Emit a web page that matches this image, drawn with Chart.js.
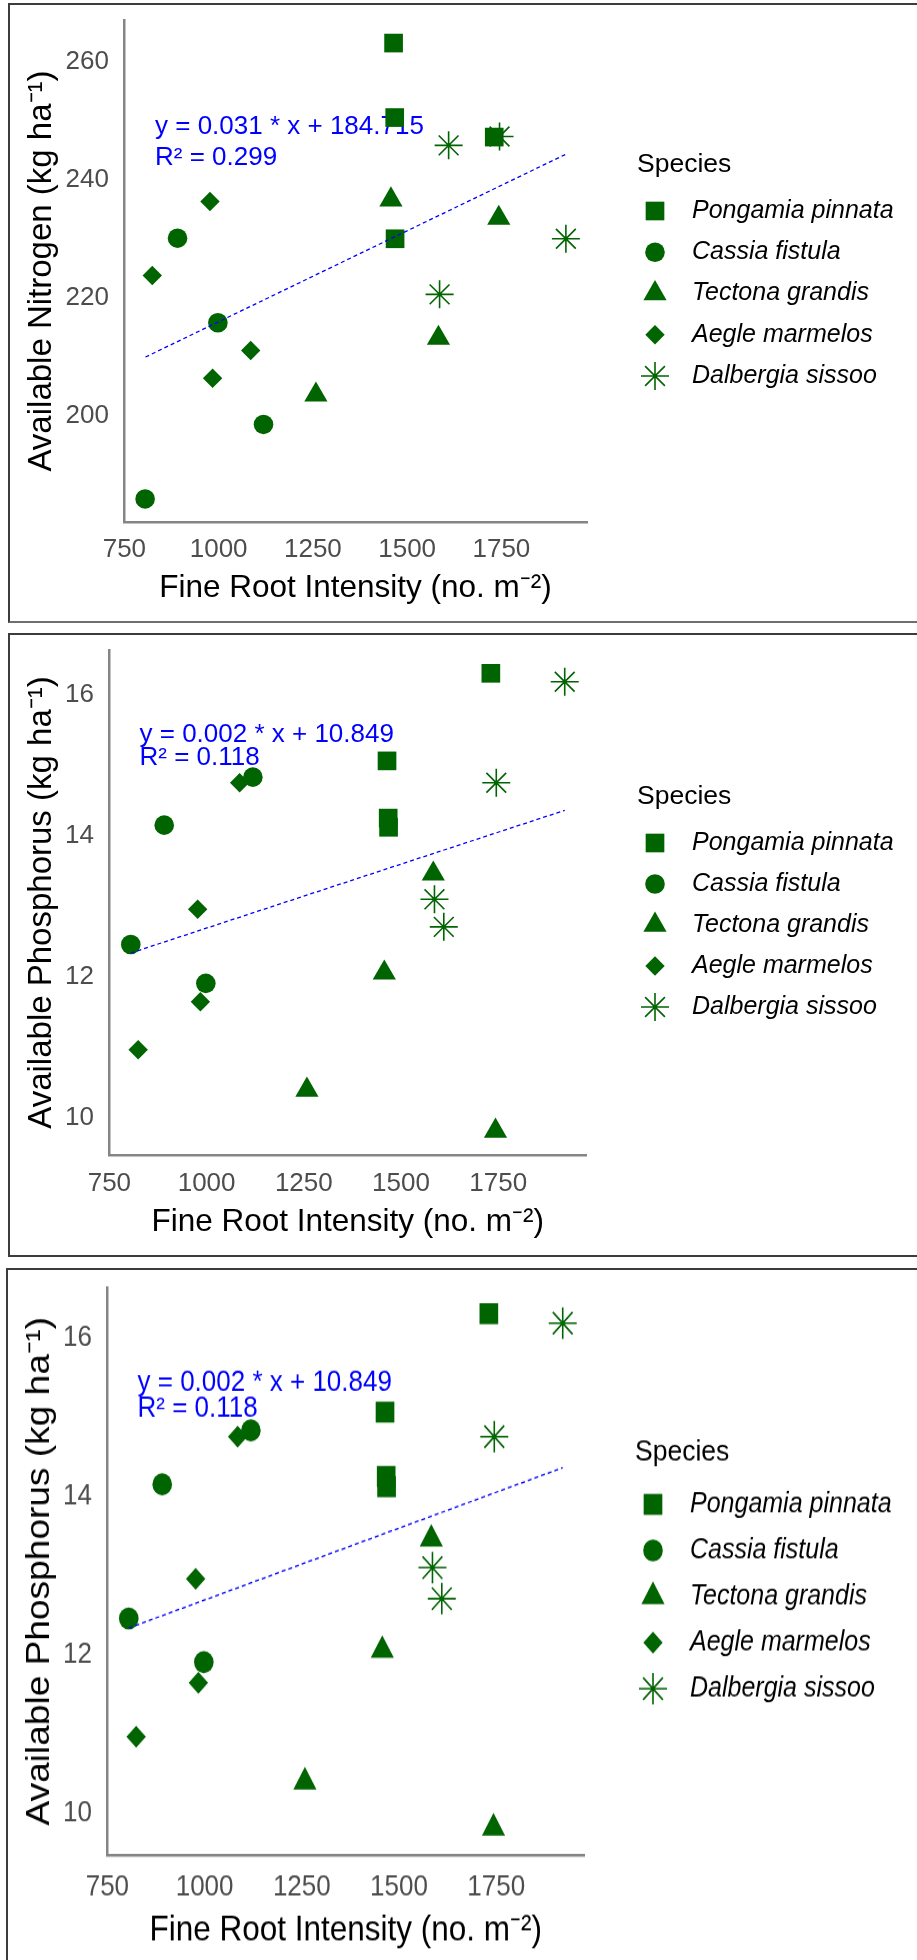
<!DOCTYPE html>
<html>
<head>
<meta charset="utf-8">
<script src="https://cdn.jsdelivr.net/npm/chart.js@4.4.1/dist/chart.umd.min.js"></script>
<style>
  html, body { margin: 0; padding: 0; background: #fff; }
  #page { position: relative; width: 917px; height: 1960px; overflow: hidden; }
  .frame { position: absolute; box-sizing: border-box; border: 2px solid #3c3c3c; }
  canvas { position: absolute; }
</style>
</head>
<body>
<div id="page">
<div class="frame" style="left:8px; top:3px; width:1000px; height:620px; border-bottom-color:#6e6e6e;"></div>
<div class="frame" style="left:8px; top:633px; width:1000px; height:624px;"></div>
<div class="frame" style="left:6px; top:1268px; width:1000px; height:800px;"></div>
<canvas id="nitrogenChart" width="917" height="626" style="left:0; top:0; width:917px; height:626px;"></canvas>
<canvas id="phosphorusChart" width="917" height="630" style="left:0; top:630px; width:917px; height:630px;"></canvas>
<canvas id="phosphorusChart2" width="917" height="630" style="left:-2px; top:1264.5px; width:917px; height:708.75px;"></canvas>
</div>
<script>
// species and their fine root intensity (no. m-2), same samples in every panel
var speciesNames = ['Pongamia pinnata', 'Cassia fistula', 'Tectona grandis', 'Aegle marmelos', 'Dalbergia sissoo'];

var pongamiaRoots = [1464, 1467, 1731, 1468];
var cassiaRoots = [891, 998, 1119, 805];
var tectonaRoots = [1457, 1743, 1583, 1258];
var aegleRoots = [977, 824, 1085, 984];
var dalbergiaRoots = [1610, 1745, 1921, 1586];

// available nitrogen (kg ha-1)
var pongamiaN = [263.1, 250.5, 247.2, 230.0];
var cassiaN = [230.1, 215.8, 198.6, 186.0];
var tectonaN = [236.6, 233.5, 213.2, 203.6];
var aegleN = [236.3, 223.8, 211.1, 206.4];
var dalbergiaN = [245.8, 247.3, 230.0, 220.6];

// available phosphorus (kg ha-1)
var pongamiaP = [15.06, 14.25, 16.30, 14.12];
var cassiaP = [14.15, 11.91, 14.83, 12.46];
var tectonaP = [12.06, 9.82, 13.46, 10.40];
var aegleP = [12.96, 10.97, 14.75, 11.65];
var dalbergiaP = [12.71, 14.75, 16.18, 13.10];

// fitted lines (end points)
var nFitX = [806, 1921];
var nFitY = [210.0, 244.3];
var pFitX = [805, 1921];
var pFitY = [12.34, 14.36];

// ticks and axis ranges
var xTicks = [750, 1000, 1250, 1500, 1750];
var nTicks = [200, 220, 240, 260];
var pTicks = [10, 12, 14, 16];
var xRange = [749, 1977];
var nRange = [182.1, 267.0];
var pRange = [9.48, 16.63];

var nEquation = ['y = 0.031 * x + 184.715', 'R\u00b2 = 0.299'];
var pEquation = ['y = 0.002 * x + 10.849', 'R\u00b2 = 0.118'];

var speciesRoots = [pongamiaRoots, cassiaRoots, tectonaRoots, aegleRoots, dalbergiaRoots];
var nitrogenValues = [pongamiaN, cassiaN, tectonaN, aegleN, dalbergiaN];
var phosphorusValues = [pongamiaP, cassiaP, tectonaP, aegleP, dalbergiaP];

var FONT = "'Liberation Sans', Arial, sans-serif";
var GREEN = '#006400';
var AXIS_GREY = '#858585';
var markerStyle = ['rect', 'circle', 'triangle', 'rectRot', 'star'];
var markerRadius = [13.2, 9.8, 13.4, 9.7, 14];

function points(xs, ys) {
    return xs.map(function (x, i) { return { x: x, y: ys[i] }; });
}

function overlay(cfg) {
    return {
        id: 'overlay',
        beforeDatasetsDraw: function (chart) {
            var c = chart.ctx;
            c.save();
            c.textAlign = 'left';
            c.textBaseline = 'alphabetic';
            c.fillStyle = '#0000ff';
            c.font = '26px ' + FONT;
            cfg.equation.forEach(function (line, i) {
                c.fillText(line, cfg.eqX, cfg.eqY[i]);
            });
            c.restore();
        },
        afterDraw: function (chart) {
            var c = chart.ctx;
            c.save();
            c.textAlign = 'left';
            c.textBaseline = 'alphabetic';
            c.fillStyle = '#000';
            c.font = '26.5px ' + FONT;
            c.fillText('Species', cfg.legX, cfg.legTitleY);
            speciesNames.forEach(function (name, i) {
                var y = cfg.legY + i * cfg.legStep;
                c.fillStyle = i === 4 ? 'rgba(0,0,0,0)' : GREEN;
                c.strokeStyle = GREEN;
                c.lineWidth = 1.6;
                Chart.helpers.drawPoint(c, {
                    pointStyle: markerStyle[i], radius: markerRadius[i], rotation: 0,
                    borderWidth: i === 4 ? 1.6 : 0
                }, cfg.symX, y);
                c.fillStyle = '#000';
                c.font = 'italic 25px ' + FONT;
                c.textBaseline = 'middle';
                c.fillText(name, cfg.labX, y);
                c.textBaseline = 'alphabetic';
            });
            c.restore();
        }
    };
}

function makeChart(id, cfg) {
    var ctx = document.getElementById(id).getContext('2d');
    var datasets = [{
        type: 'line',
        label: 'fit',
        data: points(cfg.fitX, cfg.fitY),
        borderColor: '#0000ff',
        borderWidth: 1.3,
        borderDash: [4, 3],
        pointRadius: 0,
        showLine: true,
        fill: false,
        clip: false
    }];
    speciesNames.forEach(function (name, i) {
        datasets.push({
            label: name,
            data: points(speciesRoots[i], cfg.values[i]),
            pointStyle: markerStyle[i],
            pointRadius: markerRadius[i],
            pointBackgroundColor: i === 4 ? 'rgba(0,0,0,0)' : GREEN,
            pointBorderColor: GREEN,
            pointBorderWidth: i === 4 ? 1.6 : 0,
            clip: false
        });
    });
    return new Chart(ctx, {
        type: 'scatter',
        data: { datasets: datasets },
        options: {
            responsive: false,
            animation: false,
            events: [],
            devicePixelRatio: 1,
            layout: { padding: cfg.padding },
            plugins: {
                legend: { display: false },
                tooltip: { enabled: false }
            },
            scales: {
                x: {
                    type: 'linear',
                    min: xRange[0],
                    max: xRange[1],
                    grid: { display: false, drawTicks: false },
                    border: { display: true, color: AXIS_GREY, width: 2.5 },
                    afterBuildTicks: function (s) {
                        s.ticks = xTicks.map(function (v) { return { value: v }; });
                    },
                    afterFit: function (s) {
                        s.height = cfg.xBoxH;
                        s.paddingLeft = 0;
                        s.paddingRight = 0;
                    },
                    ticks: {
                        padding: cfg.xTickPad,
                        color: '#4d4d4d',
                        autoSkip: false,
                        maxRotation: 0,
                        font: { family: FONT, size: 26 },
                        callback: function (v) { return String(v); }
                    },
                    title: {
                        display: true,
                        text: 'Fine Root Intensity (no. m\u207b\u00b2)',
                        color: '#000',
                        font: { family: FONT, size: 31.5 },
                        padding: 0
                    }
                },
                y: {
                    type: 'linear',
                    min: cfg.yRange[0],
                    max: cfg.yRange[1],
                    grid: { display: false, drawTicks: false },
                    border: { display: true, color: AXIS_GREY, width: 2.5 },
                    afterBuildTicks: function (s) {
                        s.ticks = cfg.yTicks.map(function (v) { return { value: v }; });
                    },
                    afterFit: function (s) {
                        s.width = cfg.yBoxW;
                        s.paddingTop = 0;
                        s.paddingBottom = 0;
                    },
                    ticks: {
                        padding: 15,
                        color: '#4d4d4d',
                        font: { family: FONT, size: 26 },
                        callback: function (v) { return String(v); }
                    },
                    title: {
                        display: true,
                        text: cfg.yTitle,
                        color: '#000',
                        font: { family: FONT, size: 33 },
                        padding: { top: 22, bottom: 0 }
                    }
                }
            }
        },
        plugins: [overlay(cfg)]
    });
}

var nitrogenLayout = {
    values: nitrogenValues, fitX: nFitX, fitY: nFitY,
    yTicks: nTicks, yRange: nRange,
    yTitle: 'Available Nitrogen (kg ha\u207b\u00b9)',
    equation: nEquation, eqX: 155, eqY: [133.5, 164.5],
    padding: { top: 20, left: 0, right: 330, bottom: 19 },
    yBoxW: 124, xBoxH: 85, xTickPad: 12,
    legX: 637, legTitleY: 171.7, symX: 655, labX: 692, legY: 211, legStep: 41.25
};

function phosphorusLayout() {
    return {
        values: phosphorusValues, fitX: pFitX, fitY: pFitY,
        yTicks: pTicks, yRange: pRange,
        yTitle: 'Available Phosphorus (kg ha\u207b\u00b9)',
        equation: pEquation, eqX: 139.5, eqY: [111.7, 135],
        padding: { top: 20, left: 0, right: 330.5, bottom: 18.5 },
        yBoxW: 109, xBoxH: 86.5, xTickPad: 13,
        legX: 637, legTitleY: 173.7, symX: 655, labX: 692, legY: 213, legStep: 41
    };
}

makeChart('nitrogenChart', nitrogenLayout);
makeChart('phosphorusChart', phosphorusLayout());
makeChart('phosphorusChart2', phosphorusLayout());
</script>
</body>
</html>
